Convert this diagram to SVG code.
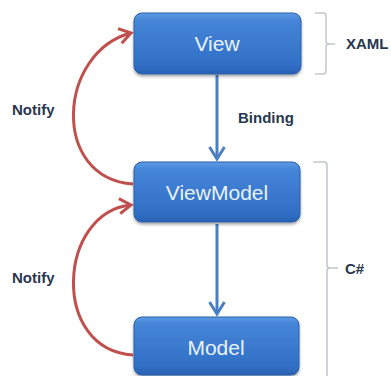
<svg xmlns="http://www.w3.org/2000/svg" width="391" height="376" viewBox="0 0 391 376">
  <defs>
    <linearGradient id="boxFill" x1="0" y1="0" x2="0" y2="1">
      <stop offset="0" stop-color="#5d9be4"/>
      <stop offset="0.12" stop-color="#4585d8"/>
      <stop offset="0.85" stop-color="#316fc6"/>
      <stop offset="1" stop-color="#2a62b3"/>
    </linearGradient>
    <filter id="shadow" x="-10%" y="-10%" width="120%" height="130%">
      <feGaussianBlur in="SourceAlpha" stdDeviation="1.5"/>
      <feOffset dx="0" dy="2" result="b"/>
      <feComponentTransfer><feFuncA type="linear" slope="0.35"/></feComponentTransfer>
      <feMerge><feMergeNode/><feMergeNode in="SourceGraphic"/></feMerge>
    </filter>
    <marker id="blueHead" markerUnits="userSpaceOnUse" markerWidth="20" markerHeight="20" viewBox="-14 -10 16 20" refX="0" refY="0" orient="auto">
      <path d="M-12,-7.5 L0,0 L-12,7.5" fill="none" stroke="#4a7fc1" stroke-width="3"/>
    </marker>
    <marker id="redHead" markerUnits="userSpaceOnUse" markerWidth="20" markerHeight="20" viewBox="-14 -10 16 20" refX="0" refY="0" orient="auto">
      <path d="M-11.5,-7.5 L0,0 L-11.5,7.5" fill="none" stroke="#c0504d" stroke-width="3"/>
    </marker>
  </defs>
  <style>
    .box { fill: url(#boxFill); stroke: #2c5ea6; stroke-width: 1; filter: url(#shadow); }
    .boxText { font-family: "Liberation Sans", Arial, sans-serif; font-size: 21px; fill: #eaf2fc; text-anchor: middle; }
    .label { font-family: "Liberation Sans", Arial, sans-serif; font-size: 15px; font-weight: bold; fill: #28374f; }
    .bind { fill: none; stroke: #4a7fc1; stroke-width: 3; marker-end: url(#blueHead); }
    .notify { fill: none; stroke: #c0504d; stroke-width: 3; marker-end: url(#redHead); }
    .brace { fill: none; stroke: #c2c6cc; stroke-width: 1.5; }
  </style>

  <!-- connectors -->
  <g id="connectors">
    <path class="bind" d="M217,75 V159"/>
    <path class="bind" d="M217,224 V314"/>
    <path class="notify" d="M133,184 C50,178 58,52 131,33"/>
    <path class="notify" d="M133,355 C50,350 58,212 131,205"/>
  </g>

  <!-- edge labels -->
  <text class="label" x="12" y="115">Notify</text>
  <text class="label" x="238" y="123">Binding</text>
  <text class="label" x="12" y="283">Notify</text>

  <!-- layer braces -->
  <g id="xaml-brace">
    <path class="brace" d="M315,13 H323 Q326,13 326,16 V41 Q326,44 329,44 H335 M329,44 Q326,44 326,47 V71 Q326,74 323,74 H315"/>
    <text class="label" x="346" y="49">XAML</text>
  </g>
  <g id="csharp-brace">
    <path class="brace" d="M313,162 H324 Q327,162 327,165 V265 Q327,268 330,268 H338 M330,268 Q327,268 327,271 V390"/>
    <text class="label" x="345" y="274">C#</text>
  </g>

  <!-- nodes -->
  <g id="view">
    <rect class="box" x="134" y="13" width="167" height="61" rx="8"/>
    <text class="boxText" x="217" y="51">View</text>
  </g>
  <g id="viewmodel">
    <rect class="box" x="134" y="162" width="166" height="60" rx="8"/>
    <text class="boxText" x="217" y="200">ViewModel</text>
  </g>
  <g id="model">
    <rect class="box" x="134" y="317" width="165" height="58" rx="8"/>
    <text class="boxText" x="216" y="355">Model</text>
  </g>
</svg>
